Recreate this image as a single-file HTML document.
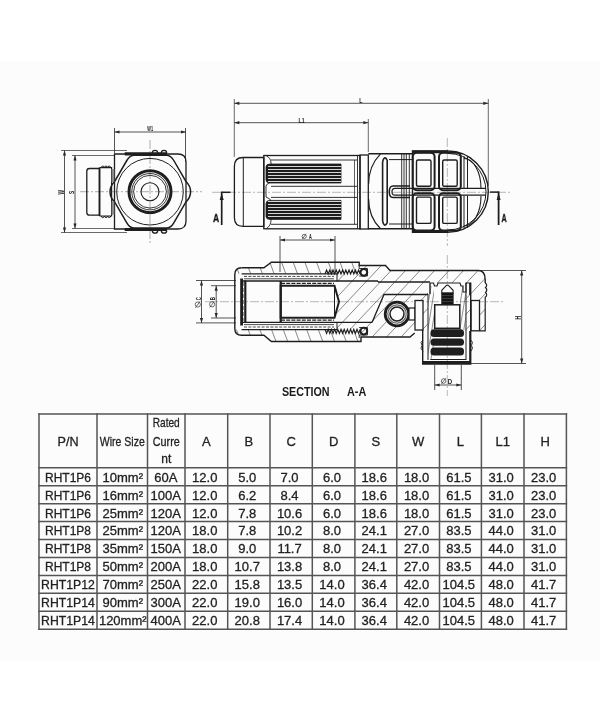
<!DOCTYPE html>
<html><head><meta charset="utf-8"><style>
html,body{margin:0;padding:0;background:#fff;}
body{width:600px;height:726px;position:relative;overflow:hidden;font-family:"Liberation Sans",sans-serif;}
.bg{position:absolute;left:0;top:62px;width:600px;height:600px;background:#fcfcfc;}
svg{position:absolute;left:0;top:0;will-change:transform;}
text{font-family:"Liberation Sans",sans-serif;}
</style></head><body>
<div class="bg"></div>
<svg width="600" height="726" viewBox="0 0 600 726">
<line x1="80" y1="191.7" x2="202" y2="191.7" stroke="#8a8a8a" stroke-width="0.7" stroke-dasharray="9 2 2 2"/>
<line x1="150" y1="140" x2="150" y2="245" stroke="#8a8a8a" stroke-width="0.7" stroke-dasharray="9 2 2 2"/>
<line x1="114.5" y1="128" x2="114.5" y2="153" stroke="#2a2a2a" stroke-width="0.8" />
<line x1="185.5" y1="128" x2="185.5" y2="162" stroke="#2a2a2a" stroke-width="0.8" />
<line x1="114.5" y1="132" x2="186" y2="132" stroke="#2a2a2a" stroke-width="0.8" />
<path d="M114.50,132.00 L119.50,130.40 L119.50,133.60 Z" fill="#2a2a2a"/>
<path d="M186.00,132.00 L181.00,133.60 L181.00,130.40 Z" fill="#2a2a2a"/>
<text x="150.15" y="131.30" font-size="6.39" font-weight="bold" fill="#1a1a1a" text-anchor="middle" textLength="5.70" lengthAdjust="spacingAndGlyphs">W1</text>
<line x1="61" y1="150.5" x2="127" y2="150.5" stroke="#2a2a2a" stroke-width="0.7" />
<line x1="61" y1="232.5" x2="127" y2="232.5" stroke="#2a2a2a" stroke-width="0.7" />
<line x1="72" y1="155.5" x2="114" y2="155.5" stroke="#2a2a2a" stroke-width="0.7" />
<line x1="72" y1="228.5" x2="114" y2="228.5" stroke="#2a2a2a" stroke-width="0.7" />
<line x1="64.5" y1="150.5" x2="64.5" y2="232.5" stroke="#2a2a2a" stroke-width="0.8" />
<path d="M64.50,150.50 L66.10,155.50 L62.90,155.50 Z" fill="#2a2a2a"/>
<path d="M64.50,232.50 L62.90,227.50 L66.10,227.50 Z" fill="#2a2a2a"/>
<line x1="75" y1="155.5" x2="75" y2="228.5" stroke="#2a2a2a" stroke-width="0.8" />
<path d="M75.00,155.50 L76.60,160.50 L73.40,160.50 Z" fill="#2a2a2a"/>
<path d="M75.00,228.50 L73.40,223.50 L76.60,223.50 Z" fill="#2a2a2a"/>
<text x="0" y="0" font-size="8.19" font-weight="bold" fill="#1a1a1a" text-anchor="middle" textLength="4.50" lengthAdjust="spacingAndGlyphs" transform="translate(64.20,192.25) rotate(-90)">W</text>
<text x="0" y="0" font-size="8.06" font-weight="bold" fill="#1a1a1a" text-anchor="middle" textLength="3.20" lengthAdjust="spacingAndGlyphs" transform="translate(73.80,192.40) rotate(-90)">S</text>
<path d="M114.5,154 H178 Q186,154 186,162 V221 Q186,229 178,229 H114.5 Z" stroke="#1e1e1e" stroke-width="1.3" fill="none" />
<line x1="124.7" y1="153.9" x2="167" y2="153.9" stroke="#1e1e1e" stroke-width="3.2" />
<line x1="124.7" y1="229.5" x2="167" y2="229.5" stroke="#1e1e1e" stroke-width="3.2" />
<path d="M152.3,153 A2.7,2.7 0 0 1 157.7,153" stroke="#1e1e1e" stroke-width="1.3" fill="none" />
<path d="M152.3,230.4 A2.7,2.7 0 0 0 157.7,230.4" stroke="#1e1e1e" stroke-width="1.3" fill="none" />
<path d="M161.3,153 A2.7,2.7 0 0 1 166.7,153" stroke="#1e1e1e" stroke-width="1.3" fill="none" />
<path d="M161.3,230.4 A2.7,2.7 0 0 0 166.7,230.4" stroke="#1e1e1e" stroke-width="1.3" fill="none" />
<path d="M134.3,155.3 H166.3 Q170.8,155.3 173.8,160.5 L185.8,181.2 Q190.60000000000002,186 190.60000000000002,191.7 Q190.60000000000002,197.4 185.8,202.2 L173.8,222.9 Q170.8,228.1 166.3,228.1 H134.3 Q129.8,228.1 126.80000000000001,222.9 L114.80000000000001,202.2 Q110.00000000000001,197.4 110.00000000000001,191.7 Q110.00000000000001,186 114.80000000000001,181.2 L126.80000000000001,160.5 Q129.8,155.3 134.3,155.3 Z" stroke="#1e1e1e" stroke-width="1.5" fill="none" />
<circle cx="150" cy="191.7" r="33.3" stroke="#1e1e1e" stroke-width="1.0" fill="none"/>
<circle cx="150" cy="191.7" r="21" stroke="#1e1e1e" stroke-width="3.0" fill="none"/>
<circle cx="150" cy="191.7" r="18.2" stroke="#1e1e1e" stroke-width="0.9" fill="none"/>
<circle cx="150" cy="191.7" r="16.4" stroke="#1e1e1e" stroke-width="0.9" fill="none"/>
<circle cx="150" cy="191.7" r="9" stroke="#1e1e1e" stroke-width="1.1" fill="none"/>
<path d="M99.5,168.5 H89.5 Q86.8,168.5 86.8,171.2 V212.4 Q86.8,215.1 89.5,215.1 H99.5" stroke="#1e1e1e" stroke-width="1.3" fill="none" />
<path d="M99.5,167.6 H111.6 V216 H99.5" stroke="#1e1e1e" stroke-width="1.2" fill="none" />
<line x1="99.5" y1="167.6" x2="99.5" y2="216" stroke="#1e1e1e" stroke-width="1.9" />
<path d="M101.3,167.6 A1.5,1.5 0 0 1 104.3,167.6" stroke="#1e1e1e" stroke-width="1.0" fill="none" />
<path d="M101.3,216 A1.5,1.5 0 0 0 104.3,216" stroke="#1e1e1e" stroke-width="1.0" fill="none" />
<path d="M104.5,167.6 A1.5,1.5 0 0 1 107.5,167.6" stroke="#1e1e1e" stroke-width="1.0" fill="none" />
<path d="M104.5,216 A1.5,1.5 0 0 0 107.5,216" stroke="#1e1e1e" stroke-width="1.0" fill="none" />
<path d="M107.7,167.6 A1.5,1.5 0 0 1 110.7,167.6" stroke="#1e1e1e" stroke-width="1.0" fill="none" />
<path d="M107.7,216 A1.5,1.5 0 0 0 110.7,216" stroke="#1e1e1e" stroke-width="1.0" fill="none" />
<rect x="111.6" y="169" width="2.7" height="13.2" rx="0" stroke="#1e1e1e" stroke-width="0" fill="#8a8a8a"/>
<rect x="111.6" y="201.4" width="2.7" height="13.3" rx="0" stroke="#1e1e1e" stroke-width="0" fill="#8a8a8a"/>
<line x1="212" y1="192.3" x2="510" y2="192.3" stroke="#8a8a8a" stroke-width="0.6" stroke-dasharray="9 2 2 2"/>
<line x1="447.3" y1="138" x2="447.3" y2="246" stroke="#8a8a8a" stroke-width="0.6" stroke-dasharray="9 2 2 2"/>
<line x1="234.3" y1="99" x2="234.3" y2="157" stroke="#2a2a2a" stroke-width="0.7" />
<line x1="368.3" y1="119" x2="368.3" y2="152" stroke="#2a2a2a" stroke-width="0.7" />
<line x1="488.3" y1="99" x2="488.3" y2="186" stroke="#2a2a2a" stroke-width="0.7" />
<line x1="234.3" y1="103.3" x2="488.3" y2="103.3" stroke="#2a2a2a" stroke-width="0.8" />
<path d="M234.30,103.30 L239.30,101.70 L239.30,104.90 Z" fill="#2a2a2a"/>
<path d="M488.30,103.30 L483.30,104.90 L483.30,101.70 Z" fill="#2a2a2a"/>
<line x1="234.3" y1="122.7" x2="368.3" y2="122.7" stroke="#2a2a2a" stroke-width="0.8" />
<path d="M234.30,122.70 L239.30,121.10 L239.30,124.30 Z" fill="#2a2a2a"/>
<path d="M368.30,122.70 L363.30,124.30 L363.30,121.10 Z" fill="#2a2a2a"/>
<text x="360.80" y="102.60" font-size="7.50" font-weight="bold" fill="#1a1a1a" text-anchor="middle" textLength="3.20" lengthAdjust="spacingAndGlyphs">L</text>
<text x="301.50" y="122.50" font-size="8.06" font-weight="bold" fill="#1a1a1a" text-anchor="middle" textLength="6.00" lengthAdjust="spacingAndGlyphs">L1</text>
<line x1="221.7" y1="192.3" x2="230.5" y2="192.3" stroke="#1e1e1e" stroke-width="1.5" />
<line x1="221.7" y1="191.6" x2="221.7" y2="225" stroke="#1e1e1e" stroke-width="1.7" />
<path d="M221.70,193.00 L223.70,200.00 L219.70,200.00 Z" fill="#1e1e1e"/>
<text x="216.00" y="221.70" font-size="11.11" font-weight="bold" fill="#1a1a1a" stroke="#1a1a1a" stroke-width="0.35" text-anchor="middle" textLength="6.20" lengthAdjust="spacingAndGlyphs">A</text>
<line x1="490" y1="192.1" x2="498.6" y2="192.1" stroke="#1e1e1e" stroke-width="1.5" />
<line x1="498.6" y1="191.4" x2="498.6" y2="225" stroke="#1e1e1e" stroke-width="1.8" />
<path d="M498.60,193.00 L500.60,200.00 L496.60,200.00 Z" fill="#1e1e1e"/>
<text x="504.00" y="221.60" font-size="10.97" font-weight="bold" fill="#1a1a1a" stroke="#1a1a1a" stroke-width="0.35" text-anchor="middle" textLength="5.20" lengthAdjust="spacingAndGlyphs">A</text>
<path d="M243,157.5 H263.8 V226.3 H243 Q234.4,226.3 234.4,217.5 V166.3 Q234.4,157.5 243,157.5 Z" stroke="#1e1e1e" stroke-width="1.3" fill="none" />
<line x1="243.3" y1="157.5" x2="243.3" y2="226.3" stroke="#1e1e1e" stroke-width="1.0" />
<rect x="263.8" y="155.5" width="96.2" height="73.3" rx="0" stroke="#1e1e1e" stroke-width="1.3" fill="none"/>
<line x1="271" y1="160" x2="357" y2="160" stroke="#1e1e1e" stroke-width="0.9" />
<line x1="271" y1="224.3" x2="357" y2="224.3" stroke="#1e1e1e" stroke-width="0.9" />
<line x1="271" y1="186.3" x2="357" y2="186.3" stroke="#1e1e1e" stroke-width="0.9" />
<line x1="271" y1="197.4" x2="357" y2="197.4" stroke="#1e1e1e" stroke-width="0.9" />
<line x1="357.5" y1="155.5" x2="357.5" y2="228.8" stroke="#1e1e1e" stroke-width="0.9" />
<line x1="354.5" y1="160" x2="354.5" y2="224.3" stroke="#1e1e1e" stroke-width="0.7" />
<path d="M266,155.5 Q271,158 271,163 V182 Q266,184 266,186 V197 Q271,199 271,201 V220 Q271,226 266,228.8" stroke="#1e1e1e" stroke-width="0.9" fill="none" />
<path d="M270,164 H341 V183 H270 Q266,183 266,180 V167 Q266,164 270,164 Z" stroke="#1e1e1e" stroke-width="0.8" fill="#1c1c1c" />
<rect x="267.5" y="166" width="73.5" height="1" fill="#d6d6d6" shape-rendering="crispEdges"/>
<rect x="267.5" y="169" width="73.5" height="1" fill="#d6d6d6" shape-rendering="crispEdges"/>
<rect x="267.5" y="172" width="73.5" height="1" fill="#d6d6d6" shape-rendering="crispEdges"/>
<rect x="267.5" y="175" width="73.5" height="1" fill="#d6d6d6" shape-rendering="crispEdges"/>
<rect x="267.5" y="178" width="73.5" height="1" fill="#d6d6d6" shape-rendering="crispEdges"/>
<rect x="267.5" y="181" width="73.5" height="1" fill="#d6d6d6" shape-rendering="crispEdges"/>
<path d="M270,200.4 H341 V219.4 H270 Q266,219.4 266,216.4 V203.4 Q266,200.4 270,200.4 Z" stroke="#1e1e1e" stroke-width="0.8" fill="#1c1c1c" />
<rect x="267.5" y="201" width="73.5" height="1" fill="#d6d6d6" shape-rendering="crispEdges"/>
<rect x="267.5" y="204" width="73.5" height="1" fill="#d6d6d6" shape-rendering="crispEdges"/>
<rect x="267.5" y="207" width="73.5" height="1" fill="#d6d6d6" shape-rendering="crispEdges"/>
<rect x="267.5" y="210" width="73.5" height="1" fill="#d6d6d6" shape-rendering="crispEdges"/>
<rect x="267.5" y="213" width="73.5" height="1" fill="#d6d6d6" shape-rendering="crispEdges"/>
<rect x="267.5" y="216" width="73.5" height="1" fill="#d6d6d6" shape-rendering="crispEdges"/>
<rect x="360" y="155" width="8.3" height="74" rx="0" stroke="#1e1e1e" stroke-width="1.3" fill="none"/>
<path d="M368.3,153.8 H412 M368.3,228.8 H412" stroke="#1e1e1e" stroke-width="1.4" fill="none" />
<path d="M380.5,153.8 Q368.6,166 368.6,184 M380.5,228.8 Q368.6,217 368.6,199" stroke="#1e1e1e" stroke-width="1.2" fill="none" />
<path d="M382.6,162 V221 M387.2,160 V223 M382.6,162 Q384,155 387.2,160 M382.6,221 Q384,228 387.2,223" stroke="#1e1e1e" stroke-width="1.6" fill="none" />
<line x1="389" y1="159.6" x2="412" y2="159.6" stroke="#1e1e1e" stroke-width="1.0" />
<line x1="389" y1="224" x2="412" y2="224" stroke="#1e1e1e" stroke-width="1.0" />
<line x1="401.7" y1="153.8" x2="401.7" y2="228.8" stroke="#1e1e1e" stroke-width="0.9" />
<line x1="404" y1="153.8" x2="404" y2="228.8" stroke="#1e1e1e" stroke-width="0.9" />
<line x1="406.3" y1="153.8" x2="406.3" y2="228.8" stroke="#1e1e1e" stroke-width="0.9" />
<line x1="409.3" y1="153.8" x2="409.3" y2="228.8" stroke="#1e1e1e" stroke-width="0.9" />
<path d="M412.5,151 H447.7 A40.6,40.6 0 0 1 447.7,232.2 H412.5 Z" stroke="#1e1e1e" stroke-width="1.4" fill="none" />
<line x1="412.5" y1="151.9" x2="448" y2="151.9" stroke="#1e1e1e" stroke-width="2.8" />
<line x1="412.5" y1="231.3" x2="448" y2="231.3" stroke="#1e1e1e" stroke-width="2.8" />
<path d="M447.7,153.4 A38.3,38.3 0 0 1 447.7,230" stroke="#1e1e1e" stroke-width="1.0" fill="none" />
<path d="M464,158.5 A17,30 0 0 1 481,188.5 M464,226 A17,30 0 0 0 481,196" stroke="#1e1e1e" stroke-width="1.1" fill="none" />
<path d="M464,156 V188 M467.5,156 V188 M464,195.5 V228 M467.5,195.5 V228" stroke="#1e1e1e" stroke-width="1.0" fill="none" />
<rect x="412.8" y="152.8" width="21.80000000000001" height="37.39999999999998" rx="4" stroke="#1e1e1e" stroke-width="2.0" fill="none"/>
<rect x="416.5" y="160.0" width="14.50000000000001" height="26.30000000000001" rx="1.5" stroke="#1e1e1e" stroke-width="1.4" fill="none"/>
<rect x="412.8" y="193.2" width="21.80000000000001" height="37.400000000000006" rx="4" stroke="#1e1e1e" stroke-width="2.0" fill="none"/>
<rect x="416.5" y="197.1" width="14.50000000000001" height="26.30000000000001" rx="1.5" stroke="#1e1e1e" stroke-width="1.4" fill="none"/>
<rect x="439.0" y="152.8" width="21.80000000000001" height="37.39999999999998" rx="4" stroke="#1e1e1e" stroke-width="2.0" fill="none"/>
<rect x="442.7" y="160.0" width="14.50000000000001" height="26.30000000000001" rx="1.5" stroke="#1e1e1e" stroke-width="1.4" fill="none"/>
<rect x="439.0" y="193.2" width="21.80000000000001" height="37.400000000000006" rx="4" stroke="#1e1e1e" stroke-width="2.0" fill="none"/>
<rect x="442.7" y="197.1" width="14.50000000000001" height="26.30000000000001" rx="1.5" stroke="#1e1e1e" stroke-width="1.4" fill="none"/>
<path d="M393,186 H410 M393,197.5 H410 M393,186 Q389.3,186 389.3,191.75 Q389.3,197.5 393,197.5" stroke="#1e1e1e" stroke-width="1.5" fill="none" />
<path d="M395,188.3 H486 M395,195.2 H486 M395,188.3 Q392,188.3 392,191.75 Q392,195.2 395,195.2" stroke="#1e1e1e" stroke-width="1.2" fill="none" />
<clipPath id="hc"><path d="M241.6,267.8 H263.9 L271.4,262.2 H359.2 V265.5 H385.5 L390,270.5 H478.3 Q485.2,270.5 485.2,279.7 V330.8 H415 L410,337 H366 V341.5 H271.4 L263.9,335.3 H241.6 Q234.8,335.3 234.8,328.5 V274.6 Q234.8,267.8 241.6,267.8 Z"/></clipPath>
<clipPath id="hb"><rect x="234" y="255" width="126" height="18.8"/><rect x="234" y="329.6" width="126" height="18"/></clipPath>
<clipPath id="hr"><rect x="337" y="273.8" width="160" height="55.8"/><rect x="359" y="255" width="140" height="92"/></clipPath>
<g clip-path="url(#hc)"><path d="M173.5,255 L207.5,346 M185.2,255 L219.2,346 M196.9,255 L230.9,346 M208.6,255 L242.6,346 M220.3,255 L254.3,346 M232.0,255 L266.0,346 M243.7,255 L277.7,346 M255.4,255 L289.4,346 M267.1,255 L301.1,346 M278.8,255 L312.8,346 M290.5,255 L324.5,346 M302.2,255 L336.2,346 M313.9,255 L347.9,346 M325.6,255 L359.6,346 M337.3,255 L371.3,346 M349.0,255 L383.0,346 M360.7,255 L394.7,346 M372.4,255 L406.4,346 M384.1,255 L418.1,346 M395.79999999999995,255 L429.79999999999995,346 M407.5,255 L441.5,346 M419.2,255 L453.2,346 M430.9,255 L464.9,346 M442.6,255 L476.6,346 M454.29999999999995,255 L488.29999999999995,346 M466.0,255 L500.0,346 M477.7,255 L511.7,346 M489.4,255 L523.4,346 M501.09999999999997,255 L535.0999999999999,346 M512.8,255 L546.8,346 M524.5,255 L558.5,346 M536.2,255 L570.2,346 M547.9,255 L581.9,346 M559.5999999999999,255 L593.5999999999999,346 M571.3,255 L605.3,346 " stroke="#3a3a3a" stroke-width="0.6" clip-path="url(#hb)" fill="none"/></g>
<g clip-path="url(#hc)"><path d="M31.0,345 L111.0,260 M45.5,345 L125.5,260 M60.0,345 L140.0,260 M74.5,345 L154.5,260 M89.0,345 L169.0,260 M103.5,345 L183.5,260 M118.0,345 L198.0,260 M132.5,345 L212.5,260 M147.0,345 L227.0,260 M161.5,345 L241.5,260 M176.0,345 L256.0,260 M190.5,345 L270.5,260 M205.0,345 L285.0,260 M219.5,345 L299.5,260 M234.0,345 L314.0,260 M248.5,345 L328.5,260 M263.0,345 L343.0,260 M277.5,345 L357.5,260 M292.0,345 L372.0,260 M306.5,345 L386.5,260 M321.0,345 L401.0,260 M335.5,345 L415.5,260 M350.0,345 L430.0,260 M364.5,345 L444.5,260 M379.0,345 L459.0,260 M393.5,345 L473.5,260 M408.0,345 L488.0,260 M422.5,345 L502.5,260 M437.0,345 L517.0,260 M451.5,345 L531.5,260 M466.0,345 L546.0,260 M480.5,345 L560.5,260 M495.0,345 L575.0,260 M509.5,345 L589.5,260 M524.0,345 L604.0,260 M538.5,345 L618.5,260 M553.0,345 L633.0,260 M567.5,345 L647.5,260 M582.0,345 L662.0,260 M596.5,345 L676.5,260 M611.0,345 L691.0,260 M625.5,345 L705.5,260 M640.0,345 L720.0,260 M654.5,345 L734.5,260 M669.0,345 L749.0,260 M683.5,345 L763.5,260 M698.0,345 L778.0,260 M712.5,345 L792.5,260 M727.0,345 L807.0,260 M741.5,345 L821.5,260 " stroke="#3a3a3a" stroke-width="0.6" clip-path="url(#hr)" fill="none"/></g>
<rect x="280" y="285.7" width="56" height="32" fill="#fcfcfc"/>
<rect x="428" y="283" width="37.3" height="78" rx="0" stroke="#fcfcfc" stroke-width="0" fill="#fcfcfc"/>
<circle cx="397" cy="314" r="13" stroke="#fcfcfc" stroke-width="0" fill="#fcfcfc"/>
<line x1="205" y1="301.7" x2="505" y2="301.7" stroke="#8a8a8a" stroke-width="0.6" stroke-dasharray="9 2 2 2"/>
<line x1="447.3" y1="255" x2="447.3" y2="396" stroke="#8a8a8a" stroke-width="0.6" stroke-dasharray="9 2 2 2"/>
<line x1="280" y1="236" x2="280" y2="272" stroke="#2a2a2a" stroke-width="0.8" />
<line x1="335" y1="236" x2="335" y2="272" stroke="#2a2a2a" stroke-width="0.8" />
<line x1="280" y1="240" x2="335" y2="240" stroke="#2a2a2a" stroke-width="0.8" />
<path d="M280.00,240.00 L285.00,238.40 L285.00,241.60 Z" fill="#2a2a2a"/>
<path d="M335.00,240.00 L330.00,241.60 L330.00,238.40 Z" fill="#2a2a2a"/>
<circle cx="304.2" cy="236.4" r="2.1" stroke="#333" stroke-width="0.7" fill="none"/>
<line x1="302.31" y1="239.03" x2="306.09" y2="233.78" stroke="#333" stroke-width="0.7"/>
<text x="310.50" y="238.80" font-size="6.67" font-weight="bold" fill="#1a1a1a" text-anchor="middle" textLength="2.80" lengthAdjust="spacingAndGlyphs">A</text>
<line x1="196" y1="280.5" x2="236" y2="280.5" stroke="#2a2a2a" stroke-width="0.8" />
<line x1="196" y1="322.9" x2="236" y2="322.9" stroke="#2a2a2a" stroke-width="0.8" />
<line x1="211" y1="285.7" x2="236" y2="285.7" stroke="#2a2a2a" stroke-width="0.8" />
<line x1="211" y1="318" x2="236" y2="318" stroke="#2a2a2a" stroke-width="0.8" />
<line x1="201.5" y1="280.5" x2="201.5" y2="322.9" stroke="#2a2a2a" stroke-width="0.8" />
<path d="M201.50,280.50 L203.10,285.50 L199.90,285.50 Z" fill="#2a2a2a"/>
<path d="M201.50,322.90 L199.90,317.90 L203.10,317.90 Z" fill="#2a2a2a"/>
<line x1="216.2" y1="285.7" x2="216.2" y2="318" stroke="#2a2a2a" stroke-width="0.8" />
<path d="M216.20,285.70 L217.80,290.70 L214.60,290.70 Z" fill="#2a2a2a"/>
<path d="M216.20,318.00 L214.60,313.00 L217.80,313.00 Z" fill="#2a2a2a"/>
<circle cx="197.8" cy="304.5" r="2.6" stroke="#333" stroke-width="0.7" fill="none"/>
<line x1="195.46" y1="307.75" x2="200.14" y2="301.25" stroke="#333" stroke-width="0.7"/>
<text x="0" y="0" font-size="7.64" font-weight="bold" fill="#1a1a1a" text-anchor="middle" textLength="3.20" lengthAdjust="spacingAndGlyphs" transform="translate(200.50,298.60) rotate(-90)">C</text>
<circle cx="212.1" cy="304.3" r="2.6" stroke="#333" stroke-width="0.7" fill="none"/>
<line x1="209.76" y1="307.55" x2="214.44" y2="301.05" stroke="#333" stroke-width="0.7"/>
<text x="0" y="0" font-size="7.64" font-weight="bold" fill="#1a1a1a" text-anchor="middle" textLength="3.20" lengthAdjust="spacingAndGlyphs" transform="translate(214.80,298.60) rotate(-90)">B</text>
<line x1="478" y1="270.5" x2="526" y2="270.5" stroke="#2a2a2a" stroke-width="0.8" />
<line x1="471" y1="363.5" x2="526" y2="363.5" stroke="#2a2a2a" stroke-width="0.8" />
<line x1="521.7" y1="270.5" x2="521.7" y2="363.5" stroke="#2a2a2a" stroke-width="0.8" />
<path d="M521.70,270.50 L523.30,275.50 L520.10,275.50 Z" fill="#2a2a2a"/>
<path d="M521.70,363.50 L520.10,358.50 L523.30,358.50 Z" fill="#2a2a2a"/>
<text x="0" y="0" font-size="8.33" font-weight="bold" fill="#1a1a1a" text-anchor="middle" textLength="3.60" lengthAdjust="spacingAndGlyphs" transform="translate(521.30,317.80) rotate(-90)">H</text>
<line x1="434.7" y1="365" x2="434.7" y2="390" stroke="#2a2a2a" stroke-width="0.8" />
<line x1="461.3" y1="365" x2="461.3" y2="390" stroke="#2a2a2a" stroke-width="0.8" />
<line x1="434.7" y1="385" x2="461.3" y2="385" stroke="#2a2a2a" stroke-width="0.8" />
<path d="M434.70,385.00 L439.70,383.40 L439.70,386.60 Z" fill="#2a2a2a"/>
<path d="M461.30,385.00 L456.30,386.60 L456.30,383.40 Z" fill="#2a2a2a"/>
<circle cx="443.6" cy="381" r="2.3" stroke="#333" stroke-width="0.7" fill="none"/>
<line x1="441.53" y1="383.88" x2="445.67" y2="378.12" stroke="#333" stroke-width="0.7"/>
<text x="450.00" y="383.70" font-size="6.81" font-weight="bold" fill="#1a1a1a" text-anchor="middle" textLength="4.40" lengthAdjust="spacingAndGlyphs">D</text>
<path d="M241.6,267.8 H263.9 L271.4,262.2 H359.2 V265.5 H385.5 L390,270.5 H478.3 Q485.2,270.5 485.2,279.7 V283" stroke="#1e1e1e" stroke-width="1.4" fill="none" />
<path d="M485.2,283 Q488,285 485.5,287.5 Q488,290 485.5,292.5 Q488,295 485.2,297.3 V330.8 H479.7" stroke="#1e1e1e" stroke-width="1.2" fill="none" />
<path d="M241.6,267.8 Q234.8,267.8 234.8,274.6 V328.5 Q234.8,335.3 241.6,335.3 H263.9 L271.4,341.5 H361 V337 H410 L414.7,333" stroke="#1e1e1e" stroke-width="1.4" fill="none" />
<line x1="241.6" y1="273.8" x2="337" y2="273.8" stroke="#1e1e1e" stroke-width="1.2" />
<line x1="337" y1="273.8" x2="337" y2="281" stroke="#1e1e1e" stroke-width="1.0" />
<line x1="244" y1="276.4" x2="334" y2="276.4" stroke="#333" stroke-width="0.9" stroke-dasharray="3 1.4"/>
<line x1="244" y1="278.8" x2="334" y2="278.8" stroke="#1e1e1e" stroke-width="0.8" />
<line x1="241.6" y1="281" x2="378" y2="281" stroke="#1e1e1e" stroke-width="1.3" />
<line x1="378" y1="282" x2="430" y2="282" stroke="#1e1e1e" stroke-width="1.3" />
<line x1="378" y1="281" x2="378" y2="282" stroke="#1e1e1e" stroke-width="1.0" />
<line x1="281" y1="283.3" x2="334" y2="283.3" stroke="#222" stroke-width="1.3" stroke-dasharray="4 1.2"/>
<line x1="241.6" y1="329.6" x2="337" y2="329.6" stroke="#1e1e1e" stroke-width="1.2" />
<line x1="337" y1="322.4" x2="337" y2="329.6" stroke="#1e1e1e" stroke-width="1.0" />
<line x1="244" y1="327.0" x2="334" y2="327.0" stroke="#333" stroke-width="0.9" stroke-dasharray="3 1.4"/>
<line x1="244" y1="324.6" x2="334" y2="324.6" stroke="#1e1e1e" stroke-width="0.8" />
<line x1="241.6" y1="322.4" x2="372" y2="322.4" stroke="#1e1e1e" stroke-width="1.3" />
<line x1="281" y1="320.1" x2="334" y2="320.1" stroke="#222" stroke-width="1.3" stroke-dasharray="4 1.2"/>
<path d="M372,322.4 L384,294.5 H428" stroke="#1e1e1e" stroke-width="1.3" fill="none" />
<rect x="240.2" y="278.5" width="2.8" height="47" rx="0" stroke="#1e1e1e" stroke-width="0" fill="#1e1e1e"/>
<rect x="244.2" y="280.5" width="2.2" height="42" rx="0" stroke="#1e1e1e" stroke-width="0" fill="#1e1e1e"/>
<line x1="243.6" y1="282" x2="243.6" y2="321" stroke="#777" stroke-width="0.8" stroke-dasharray="4 2"/>
<path d="M280.7,285.7 H334.5 L339,301.7 L334.5,317.7 H280.7 Z" stroke="#1e1e1e" stroke-width="2.0" fill="none" />
<line x1="334.5" y1="285.7" x2="334.5" y2="317.7" stroke="#1e1e1e" stroke-width="1.0" />
<line x1="280.7" y1="281" x2="280.7" y2="322.4" stroke="#1e1e1e" stroke-width="2.2" />
<path d="M325,274.0 L326.6,270.0 L328.2,274.0 L329.8,270.0 L331.4,274.0 L333.0,270.0 L334.59999999999997,274.0 L336.2,270.0 L337.79999999999995,274.0 L339.4,270.0 L340.99999999999994,274.0 L342.59999999999997,270.0 L344.19999999999993,274.0 L345.79999999999995,270.0 L347.3999999999999,274.0 L348.99999999999994,270.0 L350.5999999999999,274.0 L352.19999999999993,270.0 L353.7999999999999,274.0 L355.3999999999999,270.0 L356.9999999999999,274.0 L358.5999999999999,270.0 L360.1999999999999,274.0" stroke="#1e1e1e" stroke-width="1.2" fill="none" />
<path d="M325,329.4 L326.6,333.4 L328.2,329.4 L329.8,333.4 L331.4,329.4 L333.0,333.4 L334.59999999999997,329.4 L336.2,333.4 L337.79999999999995,329.4 L339.4,333.4 L340.99999999999994,329.4 L342.59999999999997,333.4 L344.19999999999993,329.4 L345.79999999999995,333.4 L347.3999999999999,329.4 L348.99999999999994,333.4 L350.5999999999999,329.4 L352.19999999999993,333.4 L353.7999999999999,329.4 L355.3999999999999,333.4 L356.9999999999999,329.4 L358.5999999999999,333.4 L360.1999999999999,329.4" stroke="#1e1e1e" stroke-width="1.2" fill="none" />
<path d="M359.2,265.5 V268.5 H367.5 V276 H359.2 M359.2,338 V335 H367.5 V327.5 H359.2" stroke="#1e1e1e" stroke-width="0.9" fill="none" />
<circle cx="363.8" cy="272.3" r="3.4" stroke="#1e1e1e" stroke-width="2.0" fill="none"/>
<circle cx="363.8" cy="331.1" r="3.4" stroke="#1e1e1e" stroke-width="2.0" fill="none"/>
<circle cx="397" cy="314" r="11.8" stroke="#1e1e1e" stroke-width="2.8" fill="none"/>
<circle cx="397" cy="314" r="9.2" stroke="#666" stroke-width="1.2" fill="none"/>
<circle cx="397" cy="314" r="7.0" stroke="#1e1e1e" stroke-width="1.5" fill="none"/>
<rect x="409" y="308" width="6" height="12" rx="0" stroke="#1e1e1e" stroke-width="1.2" fill="#fcfcfc"/>
<rect x="415" y="300.5" width="8" height="29.5" rx="0" stroke="#1e1e1e" stroke-width="1.3" fill="#fcfcfc"/>
<rect x="471" y="300.5" width="8.5" height="30.3" rx="0" stroke="#1e1e1e" stroke-width="1.3" fill="#fcfcfc"/>
<path d="M430,283 V294 M422.7,330 V364 H470.7 V282.5" stroke="#1e1e1e" stroke-width="1.4" fill="none" />
<path d="M428,294 V360 M466,283 V360 M469.7,331 V363" stroke="#1e1e1e" stroke-width="1.0" fill="none" />
<line x1="423" y1="362.5" x2="470.7" y2="362.5" stroke="#1e1e1e" stroke-width="3.0" />
<path d="M430,283 H433.5 L434.5,286 H437 L438,283 H460 L461,286 H463 V292 H466 V283 H469.7 V295" stroke="#1e1e1e" stroke-width="1.1" fill="none" />
<clipPath id="hw"><path d="M428,286 H434 V360 H428 Z M459.8,286 H466 V330 H459.8 Z"/></clipPath>
<path d="M410,365 L424,280 M414,365 L428,280 M418,365 L432,280 M422,365 L436,280 M426,365 L440,280 M430,365 L444,280 M434,365 L448,280 M438,365 L452,280 M442,365 L456,280 M446,365 L460,280 M450,365 L464,280 M454,365 L468,280 M458,365 L472,280 M462,365 L476,280 M466,365 L480,280 " stroke="#444" stroke-width="0.6" clip-path="url(#hw)" fill="none"/>
<path d="M441.8,293 V290.3 L446.2,285.6 Q447.4,284.6 448.6,285.6 L453.1,290.3 V293 Z" stroke="#1e1e1e" stroke-width="1.1" fill="#fcfcfc" />
<rect x="441.3" y="292.6" width="12.3" height="12.2" rx="0" stroke="#1e1e1e" stroke-width="0" fill="#151515"/>
<line x1="441.3" y1="295.5" x2="453.6" y2="295.5" stroke="#555" stroke-width="0.6" />
<line x1="441.3" y1="298.5" x2="453.6" y2="298.5" stroke="#555" stroke-width="0.6" />
<line x1="441.3" y1="301.5" x2="453.6" y2="301.5" stroke="#555" stroke-width="0.6" />
<rect x="434.7" y="304.8" width="25.1" height="23.5" rx="0" stroke="#1e1e1e" stroke-width="1.5" fill="none"/>
<rect x="430.5" y="329.3" width="33.5" height="7.699999999999989" rx="3.5" stroke="#1e1e1e" stroke-width="0" fill="#1e1e1e"/>
<rect x="430.5" y="338.4" width="33.5" height="7.300000000000011" rx="3.5" stroke="#1e1e1e" stroke-width="0" fill="#1e1e1e"/>
<rect x="430.5" y="347.6" width="33.5" height="7.7999999999999545" rx="3.5" stroke="#1e1e1e" stroke-width="0" fill="#1e1e1e"/>
<line x1="430.5" y1="359.5" x2="466" y2="359.5" stroke="#1e1e1e" stroke-width="1.0" />
<path d="M423,340 Q419.5,342 422,345.5 Q419.5,348 423,351.5" stroke="#1e1e1e" stroke-width="0.9" fill="none" />
<path d="M470.7,340 Q474,342 471.5,345.5 Q474,348 470.7,351.5" stroke="#1e1e1e" stroke-width="0.9" fill="none" />
<text x="305.75" y="395.80" font-size="13.19" font-weight="bold" fill="#1a1a1a" text-anchor="middle" textLength="47.70" lengthAdjust="spacingAndGlyphs">SECTION</text>
<text x="356.65" y="395.80" font-size="13.19" font-weight="bold" fill="#1a1a1a" text-anchor="middle" textLength="19.30" lengthAdjust="spacingAndGlyphs">A-A</text>
<line x1="39" y1="414.0" x2="39" y2="629.21" stroke="#555" stroke-width="1.5" stroke-linecap="square"/>
<line x1="97" y1="414.0" x2="97" y2="629.21" stroke="#555" stroke-width="1.5" stroke-linecap="square"/>
<line x1="147.5" y1="414.0" x2="147.5" y2="629.21" stroke="#555" stroke-width="1.5" stroke-linecap="square"/>
<line x1="185" y1="414.0" x2="185" y2="629.21" stroke="#555" stroke-width="1.5" stroke-linecap="square"/>
<line x1="227.7" y1="414.0" x2="227.7" y2="629.21" stroke="#555" stroke-width="1.5" stroke-linecap="square"/>
<line x1="270" y1="414.0" x2="270" y2="629.21" stroke="#555" stroke-width="1.5" stroke-linecap="square"/>
<line x1="312.3" y1="414.0" x2="312.3" y2="629.21" stroke="#555" stroke-width="1.5" stroke-linecap="square"/>
<line x1="354.9" y1="414.0" x2="354.9" y2="629.21" stroke="#555" stroke-width="1.5" stroke-linecap="square"/>
<line x1="396.8" y1="414.0" x2="396.8" y2="629.21" stroke="#555" stroke-width="1.5" stroke-linecap="square"/>
<line x1="439.5" y1="414.0" x2="439.5" y2="629.21" stroke="#555" stroke-width="1.5" stroke-linecap="square"/>
<line x1="481.4" y1="414.0" x2="481.4" y2="629.21" stroke="#555" stroke-width="1.5" stroke-linecap="square"/>
<line x1="524" y1="414.0" x2="524" y2="629.21" stroke="#555" stroke-width="1.5" stroke-linecap="square"/>
<line x1="566.4" y1="414.0" x2="566.4" y2="629.21" stroke="#555" stroke-width="1.5" stroke-linecap="square"/>
<line x1="39" y1="414.0" x2="566.4" y2="414.0" stroke="#555" stroke-width="1.5" stroke-linecap="square"/>
<line x1="39" y1="467.75" x2="566.4" y2="467.75" stroke="#555" stroke-width="1.5" stroke-linecap="square"/>
<line x1="39" y1="485.69" x2="566.4" y2="485.69" stroke="#555" stroke-width="1.5" stroke-linecap="square"/>
<line x1="39" y1="503.63" x2="566.4" y2="503.63" stroke="#555" stroke-width="1.5" stroke-linecap="square"/>
<line x1="39" y1="521.57" x2="566.4" y2="521.57" stroke="#555" stroke-width="1.5" stroke-linecap="square"/>
<line x1="39" y1="539.51" x2="566.4" y2="539.51" stroke="#555" stroke-width="1.5" stroke-linecap="square"/>
<line x1="39" y1="557.45" x2="566.4" y2="557.45" stroke="#555" stroke-width="1.5" stroke-linecap="square"/>
<line x1="39" y1="575.39" x2="566.4" y2="575.39" stroke="#555" stroke-width="1.5" stroke-linecap="square"/>
<line x1="39" y1="593.33" x2="566.4" y2="593.33" stroke="#555" stroke-width="1.5" stroke-linecap="square"/>
<line x1="39" y1="611.27" x2="566.4" y2="611.27" stroke="#555" stroke-width="1.5" stroke-linecap="square"/>
<line x1="39" y1="629.21" x2="566.4" y2="629.21" stroke="#555" stroke-width="1.5" stroke-linecap="square"/>
<text x="68.00" y="446.00" font-size="13" fill="#222" stroke="#222" stroke-width="0.3" text-anchor="middle" textLength="21" lengthAdjust="spacingAndGlyphs">P/N</text>
<text x="122.25" y="446.00" font-size="13" fill="#222" stroke="#222" stroke-width="0.3" text-anchor="middle" textLength="45" lengthAdjust="spacingAndGlyphs">Wire Size</text>
<text x="206.35" y="446.00" font-size="13" fill="#222" stroke="#222" stroke-width="0.3" text-anchor="middle">A</text>
<text x="248.85" y="446.00" font-size="13" fill="#222" stroke="#222" stroke-width="0.3" text-anchor="middle">B</text>
<text x="291.15" y="446.00" font-size="13" fill="#222" stroke="#222" stroke-width="0.3" text-anchor="middle">C</text>
<text x="333.60" y="446.00" font-size="13" fill="#222" stroke="#222" stroke-width="0.3" text-anchor="middle">D</text>
<text x="375.85" y="446.00" font-size="13" fill="#222" stroke="#222" stroke-width="0.3" text-anchor="middle">S</text>
<text x="418.15" y="446.00" font-size="13" fill="#222" stroke="#222" stroke-width="0.3" text-anchor="middle">W</text>
<text x="460.45" y="446.00" font-size="13" fill="#222" stroke="#222" stroke-width="0.3" text-anchor="middle">L</text>
<text x="502.70" y="446.00" font-size="13" fill="#222" stroke="#222" stroke-width="0.3" text-anchor="middle">L1</text>
<text x="545.20" y="446.00" font-size="13" fill="#222" stroke="#222" stroke-width="0.3" text-anchor="middle">H</text>
<text x="166.25" y="427.00" font-size="13" fill="#222" stroke="#222" stroke-width="0.3" text-anchor="middle" textLength="27" lengthAdjust="spacingAndGlyphs">Rated</text>
<text x="166.25" y="445.50" font-size="13" fill="#222" stroke="#222" stroke-width="0.3" text-anchor="middle" textLength="27" lengthAdjust="spacingAndGlyphs">Curre</text>
<text x="166.25" y="463.00" font-size="13" fill="#222" stroke="#222" stroke-width="0.3" text-anchor="middle" textLength="10" lengthAdjust="spacingAndGlyphs">nt</text>
<text x="68.00" y="481.65" font-size="13" fill="#222" stroke="#222" stroke-width="0.3" text-anchor="middle" textLength="46" lengthAdjust="spacingAndGlyphs">RHT1P6</text>
<text x="122.75" y="481.65" font-size="13" fill="#222" stroke="#222" stroke-width="0.3" text-anchor="middle">10mm&#178;</text>
<text x="165.75" y="481.65" font-size="13" fill="#222" stroke="#222" stroke-width="0.3" text-anchor="middle">60A</text>
<text x="204.75" y="481.65" font-size="13" fill="#222" stroke="#222" stroke-width="0.3" text-anchor="middle">12.0</text>
<text x="247.25" y="481.65" font-size="13" fill="#222" stroke="#222" stroke-width="0.3" text-anchor="middle">5.0</text>
<text x="289.55" y="481.65" font-size="13" fill="#222" stroke="#222" stroke-width="0.3" text-anchor="middle">7.0</text>
<text x="332.00" y="481.65" font-size="13" fill="#222" stroke="#222" stroke-width="0.3" text-anchor="middle">6.0</text>
<text x="374.25" y="481.65" font-size="13" fill="#222" stroke="#222" stroke-width="0.3" text-anchor="middle">18.6</text>
<text x="416.55" y="481.65" font-size="13" fill="#222" stroke="#222" stroke-width="0.3" text-anchor="middle">18.0</text>
<text x="458.85" y="481.65" font-size="13" fill="#222" stroke="#222" stroke-width="0.3" text-anchor="middle">61.5</text>
<text x="501.10" y="481.65" font-size="13" fill="#222" stroke="#222" stroke-width="0.3" text-anchor="middle">31.0</text>
<text x="543.60" y="481.65" font-size="13" fill="#222" stroke="#222" stroke-width="0.3" text-anchor="middle">23.0</text>
<text x="68.00" y="499.59" font-size="13" fill="#222" stroke="#222" stroke-width="0.3" text-anchor="middle" textLength="46" lengthAdjust="spacingAndGlyphs">RHT1P6</text>
<text x="122.75" y="499.59" font-size="13" fill="#222" stroke="#222" stroke-width="0.3" text-anchor="middle">16mm&#178;</text>
<text x="165.75" y="499.59" font-size="13" fill="#222" stroke="#222" stroke-width="0.3" text-anchor="middle">100A</text>
<text x="204.75" y="499.59" font-size="13" fill="#222" stroke="#222" stroke-width="0.3" text-anchor="middle">12.0</text>
<text x="247.25" y="499.59" font-size="13" fill="#222" stroke="#222" stroke-width="0.3" text-anchor="middle">6.2</text>
<text x="289.55" y="499.59" font-size="13" fill="#222" stroke="#222" stroke-width="0.3" text-anchor="middle">8.4</text>
<text x="332.00" y="499.59" font-size="13" fill="#222" stroke="#222" stroke-width="0.3" text-anchor="middle">6.0</text>
<text x="374.25" y="499.59" font-size="13" fill="#222" stroke="#222" stroke-width="0.3" text-anchor="middle">18.6</text>
<text x="416.55" y="499.59" font-size="13" fill="#222" stroke="#222" stroke-width="0.3" text-anchor="middle">18.0</text>
<text x="458.85" y="499.59" font-size="13" fill="#222" stroke="#222" stroke-width="0.3" text-anchor="middle">61.5</text>
<text x="501.10" y="499.59" font-size="13" fill="#222" stroke="#222" stroke-width="0.3" text-anchor="middle">31.0</text>
<text x="543.60" y="499.59" font-size="13" fill="#222" stroke="#222" stroke-width="0.3" text-anchor="middle">23.0</text>
<text x="68.00" y="517.53" font-size="13" fill="#222" stroke="#222" stroke-width="0.3" text-anchor="middle" textLength="46" lengthAdjust="spacingAndGlyphs">RHT1P6</text>
<text x="122.75" y="517.53" font-size="13" fill="#222" stroke="#222" stroke-width="0.3" text-anchor="middle">25mm&#178;</text>
<text x="165.75" y="517.53" font-size="13" fill="#222" stroke="#222" stroke-width="0.3" text-anchor="middle">120A</text>
<text x="204.75" y="517.53" font-size="13" fill="#222" stroke="#222" stroke-width="0.3" text-anchor="middle">12.0</text>
<text x="247.25" y="517.53" font-size="13" fill="#222" stroke="#222" stroke-width="0.3" text-anchor="middle">7.8</text>
<text x="289.55" y="517.53" font-size="13" fill="#222" stroke="#222" stroke-width="0.3" text-anchor="middle">10.6</text>
<text x="332.00" y="517.53" font-size="13" fill="#222" stroke="#222" stroke-width="0.3" text-anchor="middle">6.0</text>
<text x="374.25" y="517.53" font-size="13" fill="#222" stroke="#222" stroke-width="0.3" text-anchor="middle">18.6</text>
<text x="416.55" y="517.53" font-size="13" fill="#222" stroke="#222" stroke-width="0.3" text-anchor="middle">18.0</text>
<text x="458.85" y="517.53" font-size="13" fill="#222" stroke="#222" stroke-width="0.3" text-anchor="middle">61.5</text>
<text x="501.10" y="517.53" font-size="13" fill="#222" stroke="#222" stroke-width="0.3" text-anchor="middle">31.0</text>
<text x="543.60" y="517.53" font-size="13" fill="#222" stroke="#222" stroke-width="0.3" text-anchor="middle">23.0</text>
<text x="68.00" y="535.47" font-size="13" fill="#222" stroke="#222" stroke-width="0.3" text-anchor="middle" textLength="46" lengthAdjust="spacingAndGlyphs">RHT1P8</text>
<text x="122.75" y="535.47" font-size="13" fill="#222" stroke="#222" stroke-width="0.3" text-anchor="middle">25mm&#178;</text>
<text x="165.75" y="535.47" font-size="13" fill="#222" stroke="#222" stroke-width="0.3" text-anchor="middle">120A</text>
<text x="204.75" y="535.47" font-size="13" fill="#222" stroke="#222" stroke-width="0.3" text-anchor="middle">18.0</text>
<text x="247.25" y="535.47" font-size="13" fill="#222" stroke="#222" stroke-width="0.3" text-anchor="middle">7.8</text>
<text x="289.55" y="535.47" font-size="13" fill="#222" stroke="#222" stroke-width="0.3" text-anchor="middle">10.2</text>
<text x="332.00" y="535.47" font-size="13" fill="#222" stroke="#222" stroke-width="0.3" text-anchor="middle">8.0</text>
<text x="374.25" y="535.47" font-size="13" fill="#222" stroke="#222" stroke-width="0.3" text-anchor="middle">24.1</text>
<text x="416.55" y="535.47" font-size="13" fill="#222" stroke="#222" stroke-width="0.3" text-anchor="middle">27.0</text>
<text x="458.85" y="535.47" font-size="13" fill="#222" stroke="#222" stroke-width="0.3" text-anchor="middle">83.5</text>
<text x="501.10" y="535.47" font-size="13" fill="#222" stroke="#222" stroke-width="0.3" text-anchor="middle">44.0</text>
<text x="543.60" y="535.47" font-size="13" fill="#222" stroke="#222" stroke-width="0.3" text-anchor="middle">31.0</text>
<text x="68.00" y="553.41" font-size="13" fill="#222" stroke="#222" stroke-width="0.3" text-anchor="middle" textLength="46" lengthAdjust="spacingAndGlyphs">RHT1P8</text>
<text x="122.75" y="553.41" font-size="13" fill="#222" stroke="#222" stroke-width="0.3" text-anchor="middle">35mm&#178;</text>
<text x="165.75" y="553.41" font-size="13" fill="#222" stroke="#222" stroke-width="0.3" text-anchor="middle">150A</text>
<text x="204.75" y="553.41" font-size="13" fill="#222" stroke="#222" stroke-width="0.3" text-anchor="middle">18.0</text>
<text x="247.25" y="553.41" font-size="13" fill="#222" stroke="#222" stroke-width="0.3" text-anchor="middle">9.0</text>
<text x="289.55" y="553.41" font-size="13" fill="#222" stroke="#222" stroke-width="0.3" text-anchor="middle">11.7</text>
<text x="332.00" y="553.41" font-size="13" fill="#222" stroke="#222" stroke-width="0.3" text-anchor="middle">8.0</text>
<text x="374.25" y="553.41" font-size="13" fill="#222" stroke="#222" stroke-width="0.3" text-anchor="middle">24.1</text>
<text x="416.55" y="553.41" font-size="13" fill="#222" stroke="#222" stroke-width="0.3" text-anchor="middle">27.0</text>
<text x="458.85" y="553.41" font-size="13" fill="#222" stroke="#222" stroke-width="0.3" text-anchor="middle">83.5</text>
<text x="501.10" y="553.41" font-size="13" fill="#222" stroke="#222" stroke-width="0.3" text-anchor="middle">44.0</text>
<text x="543.60" y="553.41" font-size="13" fill="#222" stroke="#222" stroke-width="0.3" text-anchor="middle">31.0</text>
<text x="68.00" y="571.35" font-size="13" fill="#222" stroke="#222" stroke-width="0.3" text-anchor="middle" textLength="46" lengthAdjust="spacingAndGlyphs">RHT1P8</text>
<text x="122.75" y="571.35" font-size="13" fill="#222" stroke="#222" stroke-width="0.3" text-anchor="middle">50mm&#178;</text>
<text x="165.75" y="571.35" font-size="13" fill="#222" stroke="#222" stroke-width="0.3" text-anchor="middle">200A</text>
<text x="204.75" y="571.35" font-size="13" fill="#222" stroke="#222" stroke-width="0.3" text-anchor="middle">18.0</text>
<text x="247.25" y="571.35" font-size="13" fill="#222" stroke="#222" stroke-width="0.3" text-anchor="middle">10.7</text>
<text x="289.55" y="571.35" font-size="13" fill="#222" stroke="#222" stroke-width="0.3" text-anchor="middle">13.8</text>
<text x="332.00" y="571.35" font-size="13" fill="#222" stroke="#222" stroke-width="0.3" text-anchor="middle">8.0</text>
<text x="374.25" y="571.35" font-size="13" fill="#222" stroke="#222" stroke-width="0.3" text-anchor="middle">24.1</text>
<text x="416.55" y="571.35" font-size="13" fill="#222" stroke="#222" stroke-width="0.3" text-anchor="middle">27.0</text>
<text x="458.85" y="571.35" font-size="13" fill="#222" stroke="#222" stroke-width="0.3" text-anchor="middle">83.5</text>
<text x="501.10" y="571.35" font-size="13" fill="#222" stroke="#222" stroke-width="0.3" text-anchor="middle">44.0</text>
<text x="543.60" y="571.35" font-size="13" fill="#222" stroke="#222" stroke-width="0.3" text-anchor="middle">31.0</text>
<text x="68.00" y="589.29" font-size="13" fill="#222" stroke="#222" stroke-width="0.3" text-anchor="middle" textLength="53.8" lengthAdjust="spacingAndGlyphs">RHT1P12</text>
<text x="122.75" y="589.29" font-size="13" fill="#222" stroke="#222" stroke-width="0.3" text-anchor="middle">70mm&#178;</text>
<text x="165.75" y="589.29" font-size="13" fill="#222" stroke="#222" stroke-width="0.3" text-anchor="middle">250A</text>
<text x="204.75" y="589.29" font-size="13" fill="#222" stroke="#222" stroke-width="0.3" text-anchor="middle">22.0</text>
<text x="247.25" y="589.29" font-size="13" fill="#222" stroke="#222" stroke-width="0.3" text-anchor="middle">15.8</text>
<text x="289.55" y="589.29" font-size="13" fill="#222" stroke="#222" stroke-width="0.3" text-anchor="middle">13.5</text>
<text x="332.00" y="589.29" font-size="13" fill="#222" stroke="#222" stroke-width="0.3" text-anchor="middle">14.0</text>
<text x="374.25" y="589.29" font-size="13" fill="#222" stroke="#222" stroke-width="0.3" text-anchor="middle">36.4</text>
<text x="416.55" y="589.29" font-size="13" fill="#222" stroke="#222" stroke-width="0.3" text-anchor="middle">42.0</text>
<text x="458.85" y="589.29" font-size="13" fill="#222" stroke="#222" stroke-width="0.3" text-anchor="middle">104.5</text>
<text x="501.10" y="589.29" font-size="13" fill="#222" stroke="#222" stroke-width="0.3" text-anchor="middle">48.0</text>
<text x="543.60" y="589.29" font-size="13" fill="#222" stroke="#222" stroke-width="0.3" text-anchor="middle">41.7</text>
<text x="68.00" y="607.23" font-size="13" fill="#222" stroke="#222" stroke-width="0.3" text-anchor="middle" textLength="53.8" lengthAdjust="spacingAndGlyphs">RHT1P14</text>
<text x="122.75" y="607.23" font-size="13" fill="#222" stroke="#222" stroke-width="0.3" text-anchor="middle">90mm&#178;</text>
<text x="165.75" y="607.23" font-size="13" fill="#222" stroke="#222" stroke-width="0.3" text-anchor="middle">300A</text>
<text x="204.75" y="607.23" font-size="13" fill="#222" stroke="#222" stroke-width="0.3" text-anchor="middle">22.0</text>
<text x="247.25" y="607.23" font-size="13" fill="#222" stroke="#222" stroke-width="0.3" text-anchor="middle">19.0</text>
<text x="289.55" y="607.23" font-size="13" fill="#222" stroke="#222" stroke-width="0.3" text-anchor="middle">16.0</text>
<text x="332.00" y="607.23" font-size="13" fill="#222" stroke="#222" stroke-width="0.3" text-anchor="middle">14.0</text>
<text x="374.25" y="607.23" font-size="13" fill="#222" stroke="#222" stroke-width="0.3" text-anchor="middle">36.4</text>
<text x="416.55" y="607.23" font-size="13" fill="#222" stroke="#222" stroke-width="0.3" text-anchor="middle">42.0</text>
<text x="458.85" y="607.23" font-size="13" fill="#222" stroke="#222" stroke-width="0.3" text-anchor="middle">104.5</text>
<text x="501.10" y="607.23" font-size="13" fill="#222" stroke="#222" stroke-width="0.3" text-anchor="middle">48.0</text>
<text x="543.60" y="607.23" font-size="13" fill="#222" stroke="#222" stroke-width="0.3" text-anchor="middle">41.7</text>
<text x="68.00" y="625.17" font-size="13" fill="#222" stroke="#222" stroke-width="0.3" text-anchor="middle" textLength="53.8" lengthAdjust="spacingAndGlyphs">RHT1P14</text>
<text x="122.75" y="625.17" font-size="13" fill="#222" stroke="#222" stroke-width="0.3" text-anchor="middle">120mm&#178;</text>
<text x="165.75" y="625.17" font-size="13" fill="#222" stroke="#222" stroke-width="0.3" text-anchor="middle">400A</text>
<text x="204.75" y="625.17" font-size="13" fill="#222" stroke="#222" stroke-width="0.3" text-anchor="middle">22.0</text>
<text x="247.25" y="625.17" font-size="13" fill="#222" stroke="#222" stroke-width="0.3" text-anchor="middle">20.8</text>
<text x="289.55" y="625.17" font-size="13" fill="#222" stroke="#222" stroke-width="0.3" text-anchor="middle">17.4</text>
<text x="332.00" y="625.17" font-size="13" fill="#222" stroke="#222" stroke-width="0.3" text-anchor="middle">14.0</text>
<text x="374.25" y="625.17" font-size="13" fill="#222" stroke="#222" stroke-width="0.3" text-anchor="middle">36.4</text>
<text x="416.55" y="625.17" font-size="13" fill="#222" stroke="#222" stroke-width="0.3" text-anchor="middle">42.0</text>
<text x="458.85" y="625.17" font-size="13" fill="#222" stroke="#222" stroke-width="0.3" text-anchor="middle">104.5</text>
<text x="501.10" y="625.17" font-size="13" fill="#222" stroke="#222" stroke-width="0.3" text-anchor="middle">48.0</text>
<text x="543.60" y="625.17" font-size="13" fill="#222" stroke="#222" stroke-width="0.3" text-anchor="middle">41.7</text>
</svg>
</body></html>
